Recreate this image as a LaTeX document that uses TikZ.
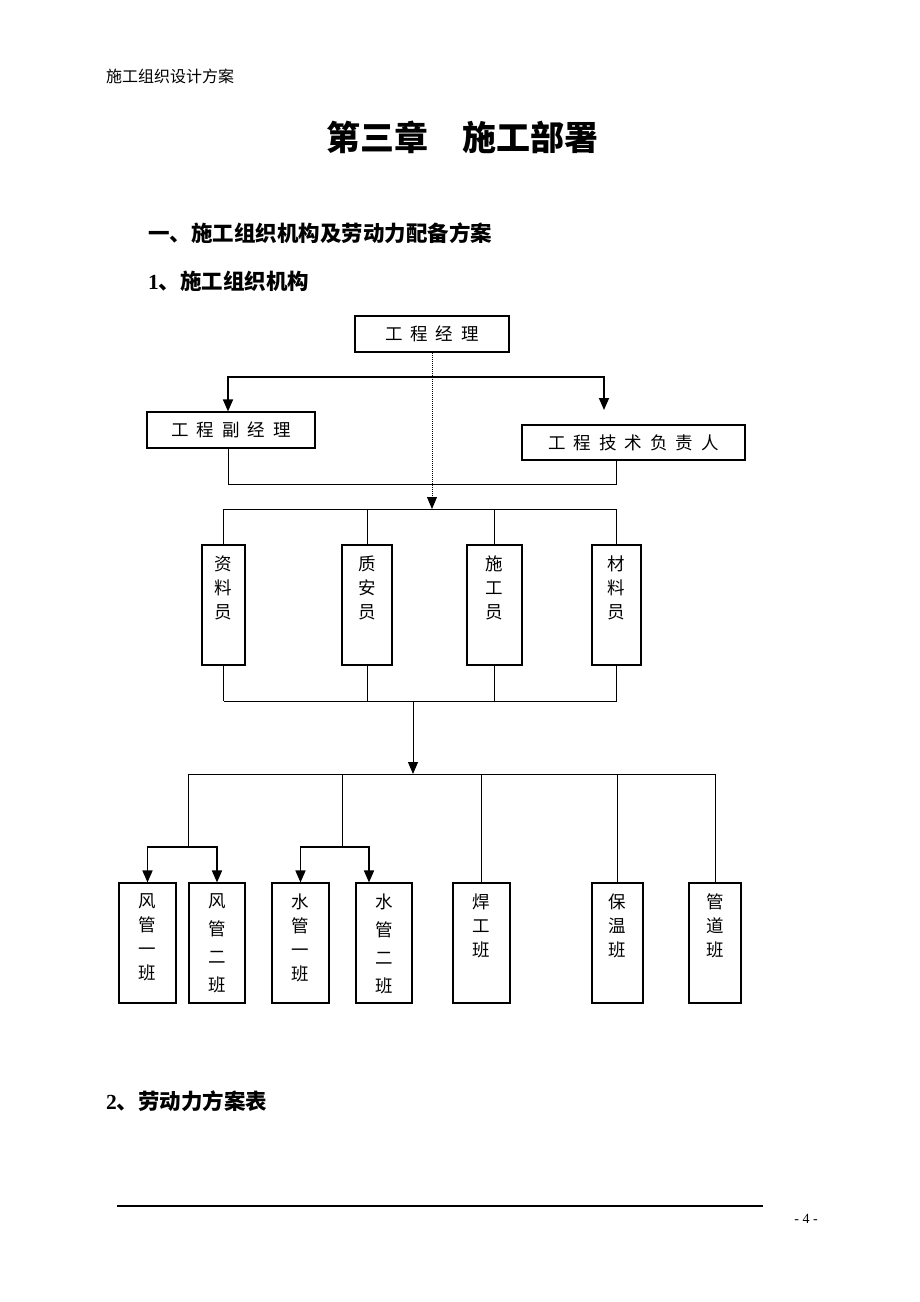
\documentclass[tikz,border=0pt]{standalone}
\usepackage{fontspec}
\setmainfont{Noto Sans CJK SC}
\newfontfamily\numfont{Liberation Serif}
\usetikzlibrary{arrows.meta}
\tikzset{
  kuang/.style={draw, line width=1.1pt, inner sep=0pt, font=\fontsize{17.5pt}{24pt}\selectfont},
  xian/.style={line width=1pt},
  cuxian/.style={line width=1.6pt, -{Triangle[width=10pt,length=12pt]}},
  jiantou/.style={line width=1pt, -{Triangle[width=10pt,length=12pt]}},
  biaoti/.style={anchor=west, inner sep=0pt, font=\fontsize{21.5pt}{21.5pt}\selectfont\bfseries}
}
\newcommand{\jg}{\hspace{8pt}}
\newcommand{\shu}[2][24pt]{\parbox[c][120pt][t]{40pt}{\centering\baselineskip=#1\relax\vspace*{11pt}#2\par}}

\begin{document}
\begin{tikzpicture}[x=1pt, y=-1pt]
\useasboundingbox (0,0) rectangle (920,1302);

\node[anchor=west, inner sep=0pt, font=\fontsize{16pt}{16pt}\selectfont] (yemei) at (106,76) {施工组织设计方案};
\node[inner sep=0pt, font=\fontsize{34pt}{34pt}\selectfont\bfseries] (zhang) at (462,137) {第三章\hspace{1em}施工部署};
\node[biaoti] (yi) at (148,233) {一、施工组织机构及劳动力配备方案};
\node[biaoti] (xiao1) at (148,281) {{\numfont 1}、施工组织机构};
\node[biaoti] (xiao2) at (106,1101) {{\numfont 2}、劳动力方案表};

\node[kuang, minimum width=154pt, minimum height=36pt] (jl) at (432,334) {工\jg 程\jg 经\jg 理};
\node[kuang, minimum width=168pt, minimum height=36pt] (fjl) at (231,430) {工\jg 程\jg 副\jg 经\jg 理};
\node[kuang, minimum width=223pt, minimum height=35pt] (jsfz) at (633.5,442.5) {工\jg 程\jg 技\jg 术\jg 负\jg 责\jg 人};

\node[kuang, minimum width=43pt, minimum height=120pt] (zly) at (223.5,605) {\shu{资\\料\\员}};
\node[kuang, minimum width=50pt, minimum height=120pt] (zay) at (367,605) {\shu{质\\安\\员}};
\node[kuang, minimum width=55pt, minimum height=120pt] (sgy) at (494.5,605) {\shu{施\\工\\员}};
\node[kuang, minimum width=49pt, minimum height=120pt] (cly) at (616.5,605) {\shu{材\\料\\员}};

\node[kuang, minimum width=57pt, minimum height=120pt] (fg1) at (147.5,943) {\shu{风\\管\\一\\班}};
\node[kuang, minimum width=56pt, minimum height=120pt] (fg2) at (217,943) {\shu[28pt]{风\\管\\二\\班}};
\node[kuang, minimum width=57pt, minimum height=120pt] (sg1) at (300.5,943) {\shu{水\\管\\一\\班}};
\node[kuang, minimum width=56pt, minimum height=120pt] (sg2) at (384,943) {\shu[28pt]{水\\管\\二\\班}};
\node[kuang, minimum width=57pt, minimum height=120pt] (hg) at (481.5,943) {\shu{焊\\工\\班}};
\node[kuang, minimum width=51pt, minimum height=120pt] (bw) at (617.5,943) {\shu{保\\温\\班}};
\node[kuang, minimum width=52pt, minimum height=120pt] (gd) at (715,943) {\shu{管\\道\\班}};

\coordinate (zhong) at (432,377);
\coordinate (r1) at (604,410);
\coordinate (g1) at (432,509);
\coordinate (g2) at (413,701);
\coordinate (g3) at (413,774);
\coordinate (fa) at (188,847);
\coordinate (sa) at (342,847);

\draw[xian, densely dotted, -{Triangle[width=10pt,length=12pt]}] (jl.south) -- (g1);
\draw[cuxian] (zhong) -| ([xshift=-3pt]fjl.north);
\draw[cuxian] (zhong) -| (r1);
\draw[xian] ([xshift=-3pt]fjl.south) -- ++(0,36) -| ([xshift=-17.5pt]jsfz.south);

\draw[xian] (zly.north |- g1) -- (cly.north |- g1);
\foreach \n in {zly,zay,sgy,cly}
  \draw[xian] (\n.north |- g1) -- (\n.north);
\foreach \n in {zly,zay,sgy,cly}
  \draw[xian] (\n.south) -- (\n.south |- g2);
\draw[xian] (zly.south |- g2) -- (cly.south |- g2);
\draw[jiantou] (g2) -- (g3);

\draw[xian] (fa |- g3) -- (gd.north |- g3);
\draw[xian] (fa |- g3) -- (fa);
\draw[xian] (sa |- g3) -- (sa);
\foreach \n in {hg,bw,gd}
  \draw[xian] (\n.north |- g3) -- (\n.north);
\draw[cuxian] (fa) -| (fg1.north);
\draw[cuxian] (fa) -| (fg2.north);
\draw[cuxian] (sa) -| (sg1.north);
\draw[cuxian] (sa) -| ([xshift=-15pt]sg2.north);

\draw[line width=1.3pt] (117,1206) -- (763,1206);
\node[inner sep=0pt, font=\numfont\fontsize{14pt}{14pt}\selectfont] (yema) at (806,1219) {- 4 -};
\end{tikzpicture}
\end{document}
